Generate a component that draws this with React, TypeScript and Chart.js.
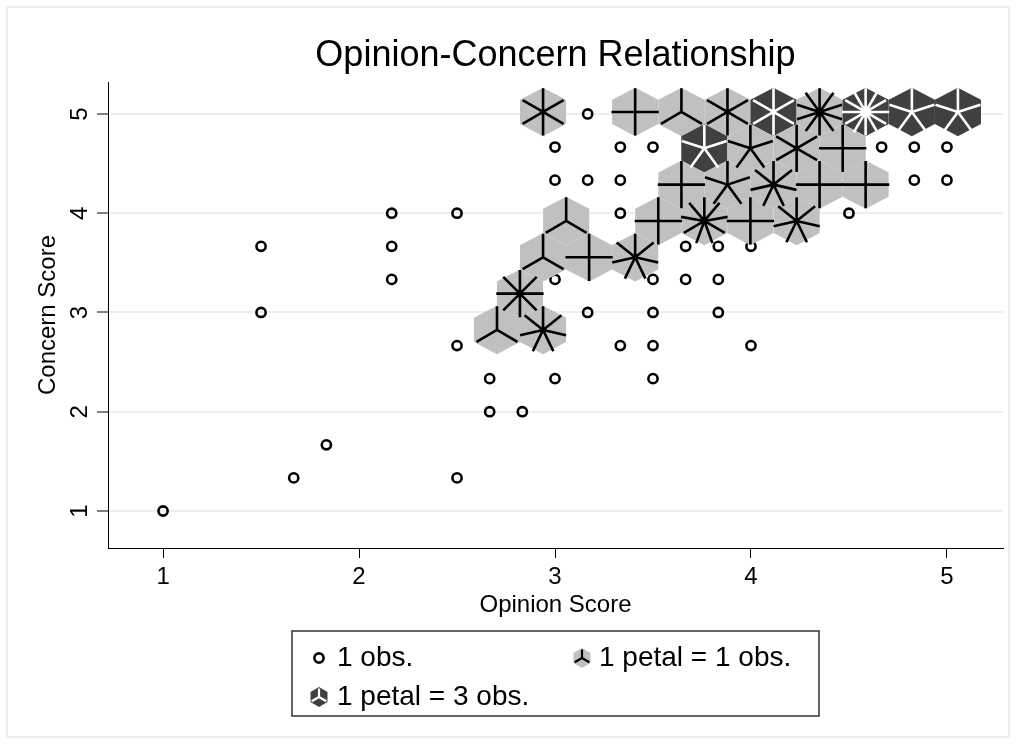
import React, { useEffect, useRef } from 'react';
import { Chart, registerables } from 'chart.js';

Chart.register(...registerables);

// ---------- data ----------
const titleText = 'Opinion-Concern Relationship';
const xTitleText = 'Opinion Score';
const yTitleText = 'Concern Score';

const xTickValues = [1, 2, 3, 4, 5];
const xTickLabels = ['1', '2', '3', '4', '5'];
const yTickValues = [1, 2, 3, 4, 5];
const yTickLabels = ['1', '2', '3', '4', '5'];

const xRange = [0.719, 5.286];
const yRange = [0.627, 5.322];

// single observations (hollow circles)
const singleX = [
  1, 1.5, 1.5, 5 / 3, 11 / 6, 13 / 6, 13 / 6, 13 / 6, 2.5, 2.5, 2.5,
  8 / 3, 8 / 3, 17 / 6, 3, 3, 3, 3, 19 / 6, 19 / 6, 19 / 6,
  10 / 3, 10 / 3, 10 / 3, 10 / 3, 3.5, 3.5, 3.5, 3.5, 3.5,
  11 / 3, 11 / 3, 23 / 6, 23 / 6, 23 / 6, 4, 4, 4.5, 14 / 3, 29 / 6, 29 / 6, 5, 5,
];
const singleY = [
  1, 3, 11 / 3, 4 / 3, 5 / 3, 10 / 3, 11 / 3, 4, 4, 8 / 3, 4 / 3,
  7 / 3, 2, 2, 7 / 3, 10 / 3, 13 / 3, 14 / 3, 5, 13 / 3, 3,
  14 / 3, 13 / 3, 4, 8 / 3, 14 / 3, 10 / 3, 3, 8 / 3, 7 / 3,
  11 / 3, 10 / 3, 11 / 3, 10 / 3, 3, 11 / 3, 8 / 3, 4, 14 / 3, 14 / 3, 13 / 3, 14 / 3, 13 / 3,
];

// sunflowers (hexagonal bins)
const flowerX = [
  2.939, 3.409, 3.645, 3.880, 4.115, 4.350, 4.585, 4.821, 5.056,
  3.762, 3.997, 4.233, 4.468,
  3.645, 3.880, 4.115, 4.350, 4.585,
  3.057, 3.527, 3.762, 3.997, 4.233,
  2.939, 3.174, 3.409,
  2.821,
  2.704, 2.939,
];
const flowerY = [
  5.020, 5.020, 5.020, 5.020, 5.020, 5.020, 5.020, 5.020, 5.020,
  4.654, 4.654, 4.654, 4.654,
  4.288, 4.288, 4.288, 4.288, 4.288,
  3.922, 3.922, 3.922, 3.922, 3.922,
  3.556, 3.556, 3.556,
  3.190,
  2.824, 2.824,
];
const flowerPetals = [
  6, 4, 3, 6, 6, 10, 12, 5, 5,
  5, 5, 6, 4,
  4, 5, 7, 4, 4,
  3, 4, 9, 4, 7,
  3, 4, 7,
  8,
  3, 7,
];
const flowerDark = [
  0, 0, 0, 0, 1, 0, 1, 1, 1,
  1, 0, 0, 0,
  0, 0, 0, 0, 0,
  0, 0, 0, 0, 0,
  0, 0, 0,
  0,
  0, 0,
];
const binHalfWidth = 0.1176;
const binRowStep = 0.366;

const legendLabels = ['1 obs.', '1 petal = 1 obs.', '1 petal = 3 obs.'];

// ---------- styles ----------
const FONT = "'Liberation Sans', Arial, Helvetica, sans-serif";
const LIGHT = '#c0c0c0';
const DARK = '#404040';
const GRID = '#eaf0f0';

function hexPath(ctx: CanvasRenderingContext2D, cx: number, cy: number, hw: number, rv: number) {
  ctx.beginPath();
  ctx.moveTo(cx, cy - rv);
  ctx.lineTo(cx + hw, cy - rv / 2);
  ctx.lineTo(cx + hw, cy + rv / 2);
  ctx.lineTo(cx, cy + rv);
  ctx.lineTo(cx - hw, cy + rv / 2);
  ctx.lineTo(cx - hw, cy - rv / 2);
  ctx.closePath();
}

function petals(ctx: CanvasRenderingContext2D, cx: number, cy: number, n: number, len: number, color: string, lw: number) {
  ctx.strokeStyle = color;
  ctx.lineWidth = lw;
  ctx.lineCap = 'butt';
  ctx.beginPath();
  for (let k = 0; k < n; k++) {
    const a = Math.PI / 2 + (2 * Math.PI * k) / n;
    ctx.moveTo(cx, cy);
    ctx.lineTo(cx + len * Math.cos(a), cy - len * Math.sin(a));
  }
  ctx.stroke();
}

const framePlugin = {
  id: 'frame',
  beforeDraw(chart: any) {
    const { ctx, width, height } = chart;
    ctx.save();
    ctx.fillStyle = '#fff';
    ctx.fillRect(0, 0, width, height);
    ctx.strokeStyle = '#e4ecee';
    ctx.lineWidth = 1.5;
    ctx.strokeRect(7, 7, width - 14, height - 14);
    ctx.restore();
  },
};

const sunflowerPlugin = {
  id: 'sunflowers',
  afterDatasetsDraw(chart: any) {
    const { ctx } = chart;
    const xs = chart.scales.x;
    const ys = chart.scales.y;
    ctx.save();
    for (let i = 0; i < flowerX.length; i++) {
      const cx = xs.getPixelForValue(flowerX[i]);
      const cy = ys.getPixelForValue(flowerY[i]);
      const hw = xs.getPixelForValue(flowerX[i] + binHalfWidth) - cx;
      const rv = cy - ys.getPixelForValue(flowerY[i] + binRowStep / 1.5);
      hexPath(ctx, cx, cy, hw, rv);
      ctx.fillStyle = flowerDark[i] ? DARK : LIGHT;
      ctx.fill();
    }
    for (let i = 0; i < flowerX.length; i++) {
      const cx = xs.getPixelForValue(flowerX[i]);
      const cy = ys.getPixelForValue(flowerY[i]);
      const hw = xs.getPixelForValue(flowerX[i] + binHalfWidth) - cx;
      const rv = cy - ys.getPixelForValue(flowerY[i] + binRowStep / 1.5);
      petals(ctx, cx, cy, flowerPetals[i], (hw + rv) / 2, flowerDark[i] ? '#fff' : '#000', 2.6);
    }
    ctx.restore();
  },
};

const overlayPlugin = {
  id: 'overlay',
  afterDraw(chart: any) {
    const { ctx, chartArea } = chart;
    const ys = chart.scales.y;
    const midX = (chartArea.left + chartArea.right) / 2;
    ctx.save();
    // title
    ctx.fillStyle = '#000';
    ctx.font = `36px ${FONT}`;
    ctx.textAlign = 'center';
    ctx.textBaseline = 'middle';
    ctx.fillText(titleText, midX, 56);

    // rotated y tick labels
    ctx.font = `24px ${FONT}`;
    ctx.textBaseline = 'alphabetic';
    yTickValues.forEach((v, i) => {
      const py = ys.getPixelForValue(v);
      ctx.save();
      ctx.translate(chartArea.left - 21, py);
      ctx.rotate(-Math.PI / 2);
      ctx.textAlign = 'center';
      ctx.fillText(yTickLabels[i], 0, 0);
      ctx.restore();
    });

    // legend
    const bw = 527;
    const bh = 85;
    const bx = midX - bw / 2;
    const by = 631;
    ctx.strokeStyle = '#333';
    ctx.lineWidth = 1.5;
    ctx.strokeRect(bx, by, bw, bh);
    const r1 = by + 27;
    const r2 = by + 66;
    // circle
    ctx.beginPath();
    ctx.arc(bx + 27, r1, 4.6, 0, Math.PI * 2);
    ctx.strokeStyle = '#000';
    ctx.lineWidth = 2.6;
    ctx.stroke();
    // light flower icon
    hexPath(ctx, bx + 290, r1, 8.5, 10);
    ctx.fillStyle = LIGHT;
    ctx.fill();
    petals(ctx, bx + 290, r1, 3, 8.5, '#000', 2.2);
    // dark flower icon
    hexPath(ctx, bx + 27, r2, 8.5, 10);
    ctx.fillStyle = DARK;
    ctx.fill();
    petals(ctx, bx + 27, r2, 3, 8.5, '#fff', 2.2);

    ctx.fillStyle = '#000';
    ctx.font = `28px ${FONT}`;
    ctx.textAlign = 'left';
    ctx.textBaseline = 'middle';
    ctx.fillText(legendLabels[0], bx + 45, r1);
    ctx.fillText(legendLabels[1], bx + 307, r1);
    ctx.fillText(legendLabels[2], bx + 45, r2);
    ctx.restore();
  },
};

export default function App() {
  const ref = useRef<HTMLCanvasElement>(null);
  useEffect(() => {
    const canvas = ref.current;
    if (!canvas) return;
    Chart.defaults.font.family = FONT;
    const chart = new Chart(canvas, {
      type: 'scatter',
      data: {
        datasets: [
          {
            label: legendLabels[0],
            data: singleX.map((v, i) => ({ x: v, y: singleY[i] })),
            pointRadius: 4.6,
            pointHoverRadius: 4.6,
            borderWidth: 2.6,
            borderColor: '#000',
            backgroundColor: 'rgba(0,0,0,0)',
            pointStyle: 'circle',
          },
        ],
      },
      options: {
        responsive: false,
        animation: false,
        devicePixelRatio: 1,
        events: [],
        layout: { padding: { left: 0, right: 13, top: 82, bottom: 116 } },
        plugins: {
          legend: { display: false },
          tooltip: { enabled: false },
          title: { display: false },
        },
        scales: {
          x: {
            type: 'linear',
            position: 'bottom',
            min: xRange[0],
            max: xRange[1],
            afterBuildTicks: (s: any) => {
              s.ticks = xTickValues.map((v) => ({ value: v }));
            },
            afterFit: (s: any) => {
              s.height = 80;
            },
            grid: {
              display: true,
              drawOnChartArea: false,
              drawTicks: true,
              tickLength: 10,
              tickColor: '#000',
              tickWidth: 1,
            },
            border: { display: true, color: '#000', width: 1 },
            ticks: {
              color: '#000',
              font: { size: 24, family: FONT },
              padding: 5,
              maxRotation: 0,
              minRotation: 0,
              autoSkip: false,
              callback: (_v: any, i: number) => xTickLabels[i],
            },
            title: {
              display: true,
              text: xTitleText,
              color: '#000',
              font: { size: 24, family: FONT },
              padding: { top: 0, bottom: 8 },
            },
          },
          y: {
            type: 'linear',
            position: 'left',
            min: yRange[0],
            max: yRange[1],
            afterBuildTicks: (s: any) => {
              s.ticks = yTickValues.map((v) => ({ value: v }));
            },
            afterFit: (s: any) => {
              s.width = 108;
            },
            grid: {
              display: true,
              drawOnChartArea: true,
              color: GRID,
              lineWidth: 2,
              drawTicks: true,
              tickLength: 11,
              tickColor: '#000',
              tickWidth: 1,
            },
            border: { display: true, color: '#000', width: 1 },
            ticks: { display: false },
            title: {
              display: true,
              text: yTitleText,
              color: '#000',
              font: { size: 24, family: FONT },
              padding: { top: 34, bottom: 0 },
            },
          },
        },
      } as any,
      plugins: [framePlugin, sunflowerPlugin, overlayPlugin],
    });
    return () => chart.destroy();
  }, []);
  return (
    <div style={{ position: 'fixed', left: 0, top: 0, width: 1016, height: 744, background: '#fff' }}>
      <canvas ref={ref} width={1016} height={744} style={{ display: 'block', width: 1016, height: 744 }} />
    </div>
  );
}
